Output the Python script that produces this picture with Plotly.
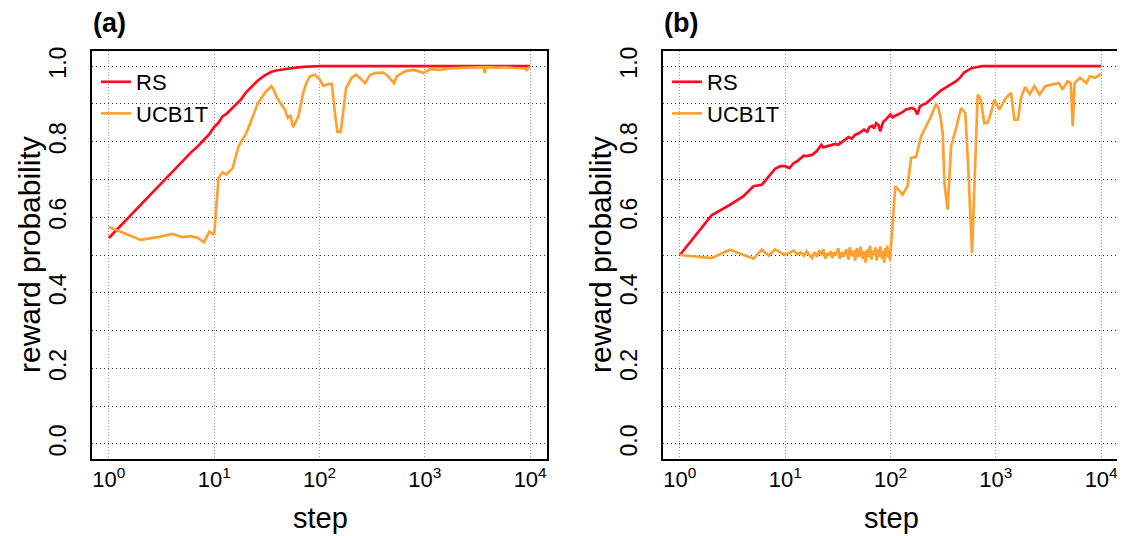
import plotly.graph_objects as go

# ---------------- data ----------------
# panel (a)
steps_a_rs = [1, 2, 3, 4, 5, 6, 7, 8, 9, 10, 11, 12, 13, 14, 16, 18, 20, 23, 26, 30,
              35, 40, 46, 52, 60, 70, 80, 100, 150, 300, 1000, 10000]
rs_a = [0.545, 0.633, 0.684, 0.721, 0.750, 0.771, 0.788, 0.805, 0.820, 0.839, 0.850, 0.867,
        0.873, 0.882, 0.898, 0.912, 0.930, 0.948, 0.962, 0.975, 0.985, 0.989, 0.992, 0.994,
        0.996, 0.998, 0.999, 1.0, 1.0, 1.0, 1.0, 1.0]

steps_a_ucb = [1, 2, 3, 4, 5, 6, 7, 8, 9, 10, 11, 12, 13, 14, 15, 16, 17, 18, 20, 22, 24, 26,
               28, 31, 33, 35, 37, 39, 43, 47, 50, 53, 56, 59, 63, 70, 75, 81, 91, 100, 109,
               120, 131, 140, 148, 159, 170, 179, 202, 221, 241, 271, 302, 348, 404, 447, 510,
               542, 646, 776, 880, 970, 1122, 1412, 1700, 2000, 2600, 3600, 3700, 3800, 5000,
               5800, 7000, 9000, 9300, 9600, 10000]
ucb_a = [0.574, 0.540, 0.548, 0.556, 0.547, 0.550, 0.545, 0.534, 0.562, 0.553, 0.704, 0.719,
         0.713, 0.722, 0.730, 0.760, 0.786, 0.800, 0.820, 0.849, 0.875, 0.902, 0.915, 0.933,
         0.940, 0.947, 0.935, 0.920, 0.900, 0.885, 0.863, 0.870, 0.838, 0.852, 0.867, 0.929,
         0.955, 0.973, 0.977, 0.965, 0.948, 0.952, 0.953, 0.876, 0.826, 0.826, 0.900, 0.942,
         0.969, 0.977, 0.969, 0.955, 0.977, 0.982, 0.983, 0.973, 0.955, 0.973, 0.986, 0.990,
         0.986, 0.982, 0.992, 0.990, 0.994, 0.995, 0.996, 0.997, 0.982, 0.997, 0.996, 0.997,
         0.995, 0.994, 0.988, 0.996, 0.997]

# panel (b)
steps_b_rs = [1, 2, 3, 4, 5, 6, 7, 8, 9, 10, 11, 12, 13, 14, 15, 16, 18, 20, 22, 23, 25, 27,
              30, 32, 35, 38, 40, 43, 46, 50, 53, 56, 60, 63, 67, 70, 73, 77, 80, 85, 90, 95,
              100, 105, 110, 120, 130, 140, 150, 160, 170, 180, 190, 200, 220, 240, 260, 280,
              300, 330, 360, 390, 420, 460, 500, 550, 600, 650, 700, 750, 800, 1000, 10000]
rs_b = [0.500, 0.605, 0.633, 0.655, 0.682, 0.686, 0.708, 0.728, 0.735, 0.735, 0.730, 0.743,
        0.748, 0.756, 0.763, 0.762, 0.765, 0.775, 0.792, 0.785, 0.788, 0.790, 0.794, 0.792,
        0.800, 0.805, 0.812, 0.808, 0.818, 0.822, 0.828, 0.832, 0.826, 0.838, 0.842, 0.835,
        0.849, 0.844, 0.827, 0.852, 0.858, 0.866, 0.872, 0.864, 0.868, 0.873, 0.878, 0.885,
        0.887, 0.889, 0.886, 0.872, 0.893, 0.897, 0.902, 0.912, 0.922, 0.928, 0.935, 0.942,
        0.947, 0.955, 0.960, 0.970, 0.983, 0.990, 0.995, 0.997, 0.999, 1.0, 1.0, 1.0, 1.0]

steps_b_ucb = [1, 2, 3, 4, 5, 6, 7, 8, 9, 10, 11, 12, 13, 14, 15, 16, 17, 18, 19, 20, 21, 22,
               23, 24, 25, 26, 27, 28, 29, 30, 32, 33, 35, 36, 38, 40, 41, 43, 45, 46, 48, 50,
               52, 54, 56, 58, 60, 62, 64, 66, 68, 70, 72, 74, 76, 78, 80, 83, 85, 87, 89, 91,
               93, 95, 97, 99, 100, 111, 120, 130, 145, 157, 175, 195, 234, 270, 285, 300, 313,
               325, 349, 376, 420, 468, 513, 550, 594, 640, 673, 720, 777, 837, 900, 969, 1080,
               1249, 1396, 1500, 1620, 1738, 1897, 2100, 2323, 2600, 2950, 3400, 3980, 4300,
               4790, 5150, 5370, 5600, 6300, 7240, 7800, 8800, 10000]
ucb_b = [0.500, 0.492, 0.514, 0.500, 0.490, 0.514, 0.498, 0.515, 0.508, 0.500, 0.505, 0.512,
         0.502, 0.507, 0.498, 0.510, 0.500, 0.492, 0.508, 0.495, 0.512, 0.500, 0.515, 0.490,
         0.505, 0.498, 0.510, 0.492, 0.507, 0.500, 0.518, 0.490, 0.508, 0.495, 0.515, 0.488,
         0.520, 0.497, 0.512, 0.485, 0.518, 0.495, 0.522, 0.490, 0.510, 0.480, 0.515, 0.495,
         0.525, 0.488, 0.512, 0.500, 0.520, 0.485, 0.515, 0.495, 0.523, 0.490, 0.510, 0.480,
         0.518, 0.497, 0.525, 0.492, 0.515, 0.485, 0.505, 0.682, 0.672, 0.660, 0.682, 0.757,
         0.760, 0.814, 0.858, 0.898, 0.890, 0.860, 0.823, 0.690, 0.620, 0.788, 0.836, 0.889,
         0.876, 0.720, 0.505, 0.730, 0.925, 0.911, 0.849, 0.850, 0.876, 0.911, 0.885, 0.916,
         0.929, 0.858, 0.858, 0.916, 0.945, 0.925, 0.947, 0.925, 0.947, 0.951, 0.955, 0.938,
         0.960, 0.955, 0.841, 0.955, 0.969, 0.955, 0.973, 0.969, 0.980]

series_names = ["RS", "UCB1T"]
colors = ["#ff0a22", "#ffa030"]

x_tickvals = [1, 10, 100, 1000, 10000]
x_ticktext = ["10<sup>0</sup>", "10<sup>1</sup>", "10<sup>2</sup>", "10<sup>3</sup>", "10<sup>4</sup>"]
y_tickvals = [0.0, 0.1, 0.2, 0.3, 0.4, 0.5, 0.6, 0.7, 0.8, 0.9, 1.0]
y_ticktext = ["0.0", "", "0.2", "", "0.4", "", "0.6", "", "0.8", "", "1.0"]

FONT = "Liberation Sans, Arial, sans-serif"
# the page body has an 8px margin: the figure is shifted by it, so size it to end at the window edge
OFF = 8
W, H = 1125 - OFF, 536 - OFF

def px(x):
    return (x - OFF) / W

def py(y):
    return 1 - (y - OFF) / H

fig = go.Figure()
fig.add_trace(go.Scatter(x=steps_a_rs, y=rs_a, name=series_names[0], mode="lines",
                         line=dict(color=colors[0], width=2.7), xaxis="x", yaxis="y", legend="legend"))
fig.add_trace(go.Scatter(x=steps_a_ucb, y=ucb_a, name=series_names[1], mode="lines",
                         line=dict(color=colors[1], width=2.7), xaxis="x", yaxis="y", legend="legend"))
fig.add_trace(go.Scatter(x=steps_b_rs, y=rs_b, name=series_names[0], mode="lines",
                         line=dict(color=colors[0], width=2.7), xaxis="x2", yaxis="y2", legend="legend2"))
fig.add_trace(go.Scatter(x=steps_b_ucb, y=ucb_b, name=series_names[1], mode="lines",
                         line=dict(color=colors[1], width=2.7), xaxis="x2", yaxis="y2", legend="legend2"))

ydom = [py(459), py(51)]
xdom1 = [px(92), px(547)]
xdom2 = [px(663), px(1118)]

def xaxis(dom, anchor):
    return dict(domain=dom, anchor=anchor, type="log", range=[-0.16, 4.16],
                tickvals=x_tickvals, ticktext=x_ticktext, ticks="", automargin=False,
                tickfont=dict(size=22, color="black", family=FONT),
                showgrid=True, gridcolor="#999999", gridwidth=1, griddash="1px,2px",
                showline=True, linecolor="black", linewidth=1.5, mirror=True, zeroline=False)

def yaxis(anchor):
    return dict(domain=ydom, anchor=anchor, range=[-0.04, 1.04], automargin=False,
                tickvals=y_tickvals, ticktext=y_ticktext, ticks="", tickangle=-90,
                tickfont=dict(size=23, color="black", family=FONT),
                showgrid=True, gridcolor="#333333", gridwidth=1, griddash="1px,3px",
                showline=True, linecolor="black", linewidth=1.5, mirror=True, zeroline=False,
                ticklabelstandoff=15)

def legend(xpx):
    return dict(x=px(xpx), y=py(61), xanchor="left", yanchor="top",
                bgcolor="rgba(0,0,0,0)", borderwidth=0,
                font=dict(size=22, color="black", family=FONT), itemwidth=30,
                tracegroupgap=0)

def ann(text, x, y, size, angle=0):
    return dict(text=text, x=px(x), y=py(y), xref="paper", yref="paper",
                xanchor="center", yanchor="middle", showarrow=False, textangle=angle,
                font=dict(size=size, color="black", family=FONT))

annotations = [
    ann("<b>(a)</b>", 109, 23, 27),
    ann("<b>(b)</b>", 681, 23, 27),
    ann("step", 320, 518, 29),
    ann("step", 891, 518, 29),
    ann("reward probability", 29, 255, 30, -90),
    ann("reward probability", 600, 255, 30, -90),
]

fig.update_layout(
    width=W, height=H, margin=dict(l=0, r=0, t=0, b=0, pad=0, autoexpand=False),
    paper_bgcolor="white", plot_bgcolor="white",
    font=dict(family=FONT, color="black"),
    xaxis=xaxis(xdom1, "y"), yaxis=yaxis("x"),
    xaxis2=xaxis(xdom2, "y2"), yaxis2=yaxis("x2"),
    legend=legend(96), legend2=legend(667),
    annotations=annotations, showlegend=True,
)

fig.write_html("out.html")
